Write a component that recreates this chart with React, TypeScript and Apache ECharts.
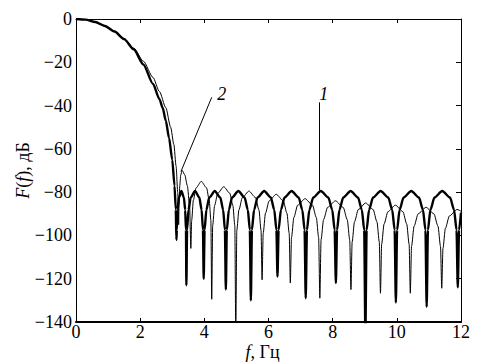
import React, { useEffect, useRef } from 'react';
import * as echarts from 'echarts';

// Tick values
const xTicks = [0, 2, 4, 6, 8, 10, 12];
const yTicks = [0, -20, -40, -60, -80, -100, -120, -140];

// Curve 1 (thick): main lobe [f (Hz), F (dB)]
const curve1MainLobe: number[][] = [
  [0, 0], [0.3, -0.3], [0.6, -1.4], [0.9, -3.2], [1.2, -5.8], [1.5, -9.3], [1.8, -14],
  [2.1, -21], [2.4, -30], [2.6, -37], [2.7, -41], [2.8, -47], [2.9, -55], [3.0, -65],
  [3.07, -77], [3.11, -88], [3.13, -102],
];

// Curve 1 (thick): side lobes
const curve1SideLobes: number[][] = [
  [3.142, -97.5], [3.167, -88.2], [3.208, -82.5], [3.285, -79.5], [3.363, -82.5], [3.403, -88.2], [3.428, -97.5], [3.44, -123],
  [3.462, -97.5], [3.505, -88.2], [3.575, -82.5], [3.71, -79.5], [3.845, -82.5], [3.915, -88.2], [3.958, -97.5], [3.98, -120],
  [4.008, -97.5], [4.063, -88.2], [4.153, -82.5], [4.325, -79.5], [4.498, -82.5], [4.587, -88.2], [4.642, -97.5], [4.67, -125],
  [4.701, -97.5], [4.764, -88.2], [4.865, -82.5], [5.06, -79.5], [5.255, -82.5], [5.356, -88.2], [5.419, -97.5], [5.45, -130],
  [5.483, -97.5], [5.55, -88.2], [5.658, -82.5], [5.865, -79.5], [6.073, -82.5], [6.18, -88.2], [6.247, -97.5], [6.28, -119],
  [6.315, -97.5], [6.386, -88.2], [6.5, -82.5], [6.72, -79.5], [6.94, -82.5], [7.054, -88.2], [7.125, -97.5], [7.16, -129],
  [7.198, -97.5], [7.273, -88.2], [7.395, -82.5], [7.63, -79.5], [7.865, -82.5], [7.987, -88.2], [8.062, -97.5], [8.1, -122],
  [8.137, -97.5], [8.21, -88.2], [8.33, -82.5], [8.56, -79.5], [8.79, -82.5], [8.91, -88.2], [8.983, -97.5], [9.02, -145],
  [9.058, -97.5], [9.134, -88.2], [9.258, -82.5], [9.495, -79.5], [9.733, -82.5], [9.856, -88.2], [9.932, -97.5], [9.97, -131],
  [10.008, -97.5], [10.085, -88.2], [10.21, -82.5], [10.45, -79.5], [10.69, -82.5], [10.815, -88.2], [10.892, -97.5], [10.93, -133],
  [10.969, -97.5], [11.046, -88.2], [11.173, -82.5], [11.415, -79.5], [11.658, -82.5], [11.784, -88.2], [11.861, -97.5], [11.9, -124],
  [11.939, -97.5], [12, -89.5],
];

// Curve 2 (thin): main lobe
const curve2MainLobe: number[][] = [
  [0, 0], [0.3, -0.3], [0.6, -1.3], [0.9, -3.1], [1.2, -5.6], [1.5, -9], [1.8, -13.5],
  [2.1, -19.5], [2.4, -27], [2.6, -33.5], [2.8, -41], [2.95, -50], [3.05, -58],
  [3.12, -68], [3.17, -80], [3.2, -95],
];

// Curve 2 (thin): side lobes
const curve2SideLobes: number[][] = [
  [3.212, -86], [3.235, -77], [3.265, -72], [3.31, -70], [3.39, -72], [3.47, -77], [3.54, -86], [3.58, -106],
  [3.606, -93], [3.658, -83.7], [3.743, -78], [3.905, -75], [4.068, -78], [4.152, -83.7], [4.204, -93], [4.23, -129.5],
  [4.26, -95.5], [4.32, -86.2], [4.418, -80.5], [4.605, -77.5], [4.793, -80.5], [4.89, -86.2], [4.95, -95.5], [4.98, -145],
  [5.013, -97.5], [5.078, -88.2], [5.185, -82.5], [5.39, -79.5], [5.595, -82.5], [5.702, -88.2], [5.767, -97.5], [5.8, -120.5],
  [5.835, -99], [5.906, -89.7], [6.02, -84], [6.24, -81], [6.46, -84], [6.574, -89.7], [6.645, -99], [6.68, -122],
  [6.717, -101], [6.79, -91.7], [6.91, -86], [7.14, -83], [7.37, -86], [7.49, -91.7], [7.563, -101], [7.6, -129],
  [7.639, -102], [7.716, -92.7], [7.843, -87], [8.085, -84], [8.328, -87], [8.454, -92.7], [8.531, -102], [8.57, -125],
  [8.607, -103], [8.68, -93.7], [8.8, -88], [9.03, -85], [9.26, -88], [9.38, -93.7], [9.453, -103], [9.49, -126.7],
  [9.527, -104], [9.602, -94.7], [9.723, -89], [9.955, -86], [10.188, -89], [10.308, -94.7], [10.383, -104], [10.42, -126.7],
  [10.459, -105], [10.538, -95.7], [10.665, -90], [10.91, -87], [11.155, -90], [11.282, -95.7], [11.361, -105], [11.4, -124.4],
  [11.438, -106], [11.514, -96.7], [11.638, -91], [11.875, -88], [12, -88.8],
];

// Annotation leader lines: [start, end] in data coordinates
const leader1: number[][] = [[7.57, -38.5], [7.57, -79.3]];
const leader2: number[][] = [[4.23, -36.2], [3.27, -70.5]];

const FONT = 'Liberation Serif, Times New Roman, serif';
const fmt = (v: number) => (v < 0 ? '\u2212' + Math.abs(v) : String(v));

export default function App() {
  const ref = useRef<HTMLDivElement>(null);

  useEffect(() => {
    if (!ref.current) return;
    const chart = echarts.init(ref.current, null, { renderer: 'svg' });
    const black = '#000';
    const xMin = xTicks[0];
    const xMax = xTicks[xTicks.length - 1];
    const xInt = xTicks[1] - xTicks[0];
    const yMin = yTicks[yTicks.length - 1];
    const yMax = yTicks[0];
    const yInt = yTicks[0] - yTicks[1];

    chart.setOption({
      animation: false,
      grid: { left: 76, right: 29, top: 19, bottom: 41, outerBoundsMode: 'none', containLabel: false },
      xAxis: [
        {
          type: 'value', min: xMin, max: xMax, interval: xInt, position: 'bottom',
          axisLine: { show: true, onZero: false, lineStyle: { color: black, width: 2 } },
          axisTick: { show: true, inside: true, length: 4, lineStyle: { color: black, width: 1 } },
          axisLabel: { show: true, margin: 2, color: black, fontFamily: FONT, fontSize: 18, lineHeight: 16, formatter: fmt, showMinLabel: true, showMaxLabel: true },
          splitLine: { show: false },
          name: '{it|f}, Гц', nameLocation: 'middle', nameGap: 22, nameMoveOverlap: false,
          nameTextStyle: {
            color: black, fontFamily: FONT, fontSize: 18, lineHeight: 16, padding: [0, 12, 0, 0],
            rich: { it: { fontStyle: 'italic', fontFamily: FONT, fontSize: 18, lineHeight: 16, color: black } },
          },
        },
        {
          type: 'value', min: xMin, max: xMax, interval: xInt, position: 'top',
          axisLine: { show: true, onZero: false, lineStyle: { color: black, width: 1 } },
          axisTick: { show: true, inside: true, length: 4, lineStyle: { color: black, width: 1 } },
          axisLabel: { show: false },
          splitLine: { show: false },
        },
      ],
      yAxis: [
        {
          type: 'value', min: yMin, max: yMax, interval: yInt, position: 'left',
          axisLine: { show: true, onZero: false, lineStyle: { color: black, width: 1 } },
          axisTick: { show: false },
          axisLabel: { show: true, margin: 4, color: black, fontFamily: FONT, fontSize: 18, formatter: fmt, showMinLabel: true, showMaxLabel: true },
          splitLine: { show: false },
          name: '{it|F}({it|f}), дБ', nameLocation: 'middle', nameGap: 44, nameRotate: 90, nameMoveOverlap: false,
          nameTextStyle: {
            color: black, fontFamily: FONT, fontSize: 18,
            rich: { it: { fontStyle: 'italic', fontFamily: FONT, fontSize: 18, color: black } },
          },
        },
        {
          type: 'value', min: yMin, max: yMax, interval: yInt, position: 'right',
          axisLine: { show: true, onZero: false, lineStyle: { color: black, width: 1 } },
          axisTick: { show: true, inside: true, length: 5, lineStyle: { color: black, width: 1 } },
          axisLabel: { show: false },
          splitLine: { show: false },
        },
      ],
      series: [
        {
          name: '2', type: 'line', xAxisIndex: 0, yAxisIndex: 0,
          data: curve2MainLobe.concat(curve2SideLobes),
          showSymbol: false, symbol: 'none', smooth: 0.25, smoothMonotone: 'x', clip: true,
          lineStyle: { color: black, width: 1 },
          markLine: {
            silent: true, symbol: ['none', 'none'], label: { show: false },
            lineStyle: { color: black, width: 1, type: 'solid' },
            data: [
              [{ coord: leader1[0] }, { coord: leader1[1] }],
              [{ coord: leader2[0] }, { coord: leader2[1] }],
            ],
          },
          markPoint: {
            silent: true, symbol: 'circle', symbolSize: 1,
            itemStyle: { color: 'rgba(0,0,0,0)' },
            data: [
              { coord: leader1[0], label: { show: true, formatter: '1', position: 'inside', offset: [5, -8], color: black, fontFamily: FONT, fontSize: 18, fontStyle: 'italic' } },
              { coord: leader2[0], label: { show: true, formatter: '2', position: 'inside', offset: [10, -3], color: black, fontFamily: FONT, fontSize: 18, fontStyle: 'italic' } },
            ],
          },
        },
        {
          name: '1', type: 'line', xAxisIndex: 0, yAxisIndex: 0,
          data: curve1MainLobe.concat(curve1SideLobes),
          showSymbol: false, symbol: 'none', smooth: 0.25, smoothMonotone: 'x', clip: true,
          lineStyle: { color: black, width: 2.4 },
        },
      ],
    });

    return () => chart.dispose();
  }, []);

  return (
    <div
      ref={ref}
      style={{ position: 'fixed', left: 0, top: 0, width: 490, height: 363, background: '#fff' }}
    />
  );
}
